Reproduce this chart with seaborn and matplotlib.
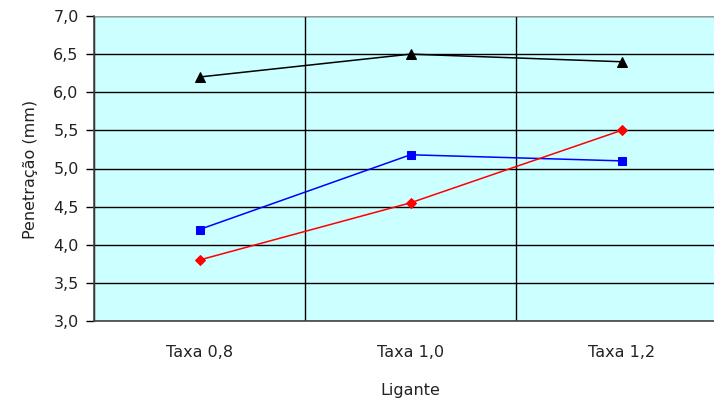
import matplotlib
matplotlib.use("Agg")
import matplotlib.pyplot as plt
import seaborn as sns
import pandas as pd
from matplotlib.ticker import FixedLocator, FuncFormatter

categories = ["Taxa 0,8", "Taxa 1,0", "Taxa 1,2"]
serie_preta = [6.2, 6.5, 6.4]
serie_azul = [4.2, 5.18, 5.1]
serie_vermelha = [3.8, 4.55, 5.5]

series = {"preta": serie_preta, "azul": serie_azul, "vermelha": serie_vermelha}
cores = {"preta": "black", "azul": "#0000FF", "vermelha": "#FF0000"}
marcadores = {"preta": "^", "azul": "s", "vermelha": "D"}
tamanhos = {"preta": 7, "azul": 6, "vermelha": 5.5}

rows = []
for nome, vals in series.items():
    for i, v in enumerate(vals):
        rows.append({"pos": i, "valor": v, "serie": nome})
df = pd.DataFrame(rows)

sns.set_style("white")
plt.rcParams["font.family"] = ["DejaVu Sans"]
fs = 11.5

fig = plt.figure(figsize=(7.14, 4.03), dpi=100)
ax = fig.add_axes([94 / 714, (403 - 321) / 403, (727 - 94) / 714, (321 - 16) / 403])
ax.set_facecolor("#CCFFFF")

for nome in series:
    sub = df[df["serie"] == nome]
    sns.lineplot(data=sub, x="pos", y="valor", ax=ax, color=cores[nome],
                 marker=marcadores[nome], markersize=tamanhos[nome],
                 markeredgecolor=cores[nome], linewidth=1.1, legend=False,
                 zorder=3)

ax.set_xlim(-0.5, 2.5)
ax.set_ylim(3.0, 7.0)

ax.yaxis.set_major_locator(FixedLocator([3.0 + 0.5 * k for k in range(9)]))
ax.yaxis.set_major_formatter(FuncFormatter(lambda v, p: f"{v:.1f}".replace(".", ",")))
ax.grid(axis="y", color="black", linewidth=1.0, zorder=1)

ax.set_xticks(range(len(categories)))
ax.set_xticklabels(categories)
ax.set_xticks([-0.5, 0.5, 1.5, 2.5], minor=True)
ax.grid(axis="x", which="minor", color="black", linewidth=1.0, zorder=1)
ax.grid(axis="x", which="major", visible=False)

ax.tick_params(axis="x", which="major", length=0, pad=17, labelsize=fs, colors="#222222")
ax.tick_params(axis="x", which="minor", length=6, width=1.0, direction="out", color="black")
ax.tick_params(axis="y", length=6, width=1.0, direction="out", color="black",
               labelsize=fs, labelcolor="#222222", left=True, pad=5)

for side in ["top", "right"]:
    ax.spines[side].set_visible(False)
ax.spines["left"].set_color("#444444")
ax.spines["left"].set_linewidth(1.2)
ax.spines["bottom"].set_color("#444444")
ax.spines["bottom"].set_linewidth(1.2)
ax.axhline(7.0, color="#999999", linewidth=1.5, zorder=2)

ax.set_xlabel("Ligante", fontsize=fs, color="#222222")
ax.set_ylabel("Penetração (mm)", fontsize=fs, color="#222222")
ax.xaxis.set_label_coords((410 - 94) / (727 - 94), -(390 - 321) / 305, transform=ax.transAxes)
ax.xaxis.label.set_va("center")
ax.yaxis.set_label_coords(-(94 - 31) / 633, (321 - 169) / 305, transform=ax.transAxes)
ax.yaxis.label.set_va("center")

fig.savefig("out.png", dpi=100)
